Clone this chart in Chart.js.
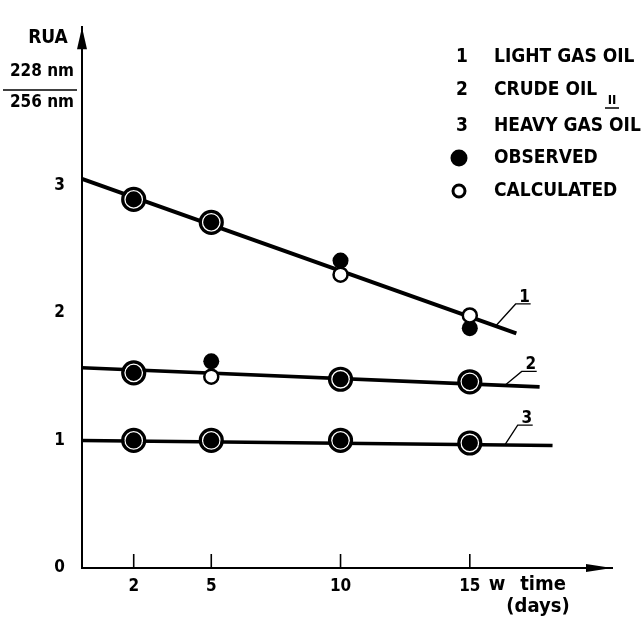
<!DOCTYPE html>
<html>
<head>
<meta charset="utf-8">
<script src="https://cdn.jsdelivr.net/npm/chart.js@4"></script>
<style>
html, body { margin: 0; padding: 0; background: #fff; }
#wrap { width: 644px; height: 618px; }
</style>
</head>
<body>
<div id="wrap"><canvas id="rua"></canvas></div>
<script>
const xTicks = [2, 5, 10, 15];
const yTicks = [0, 1, 2, 3];

// fitted lines, start and end of each
const line1 = [{ x: 0, y: 3.05 }, { x: 16.8, y: 1.84 }];
const line2 = [{ x: 0, y: 1.57 }, { x: 17.7, y: 1.42 }];
const line3 = [{ x: 0, y: 1.00 }, { x: 18.2, y: 0.96 }];

const days = [2, 5, 10, 15, 2, 5, 10, 15, 2, 5, 10, 15];
const observed   = [2.89, 2.71, 2.41, 1.88, 1.53, 1.62, 1.48, 1.46, 1.00, 1.00, 1.00, 0.98];
const calculated = [2.89, 2.71, 2.30, 1.98, 1.53, 1.50, 1.48, 1.46, 1.00, 1.00, 1.00, 0.98];

const curveNames = ["1", "2", "3"];
const legendRows = [
    ["1", "LIGHT GAS OIL"],
    ["2", "CRUDE OIL"],
    ["3", "HEAVY GAS OIL"],
    ["obs", "OBSERVED"],
    ["calc", "CALCULATED"]
];

const FONT = '"DejaVu Sans Condensed", "Liberation Sans Narrow", sans-serif';
const same = observed.map((v, i) => v === calculated[i]);

const obsPts = days.map((d, i) => ({ x: d, y: observed[i] }));
const calcPts = days.map((d, i) => ({ x: d, y: calculated[i] }));

function lineSet(pts, w) {
    return {
        type: "line", data: pts, borderColor: "#000", borderWidth: w,
        pointRadius: 0, showLine: true, order: 3
    };
}

function arrow(ctx, tx, ty, dx, dy, len, half) {
    // filled arrowhead with its tip at (tx, ty), pointing along (dx, dy)
    const bx = tx - dx * len, by = ty - dy * len;
    ctx.beginPath();
    ctx.moveTo(tx, ty);
    ctx.lineTo(bx - dy * half, by + dx * half);
    ctx.lineTo(bx + dy * half, by - dx * half);
    ctx.closePath();
    ctx.fill();
}

const decor = {
    id: "decor",
    afterDraw(chart) {
        const { ctx, chartArea: a, scales: { x, y } } = chart;
        ctx.save();
        ctx.fillStyle = "#000";
        ctx.strokeStyle = "#000";

        arrow(ctx, a.left, a.top, 0, -1, 22, 5);
        arrow(ctx, a.right, a.bottom, 1, 0, 26, 4);

        // ticks on the time axis point up into the plot
        ctx.lineWidth = 1.6;
        xTicks.forEach(v => {
            const px = x.getPixelForValue(v);
            ctx.beginPath();
            ctx.moveTo(px, a.bottom);
            ctx.lineTo(px, a.bottom - 14);
            ctx.stroke();
        });

        // curve numbers with leader lines
        const lines = [line1, line2, line3];
        const leadX = [16.0, 16.35, 16.35];
        const lead = [[20, -22], [17, -14], [13, -20]];
        ctx.font = "bold 17px " + FONT;
        ctx.textAlign = "center";
        ctx.textBaseline = "alphabetic";
        lines.forEach((ln, i) => {
            const t = (leadX[i] - ln[0].x) / (ln[1].x - ln[0].x);
            const vy = ln[0].y + t * (ln[1].y - ln[0].y);
            const px = x.getPixelForValue(leadX[i]), py = y.getPixelForValue(vy);
            const ux = px + lead[i][0], uy = py + lead[i][1];
            ctx.lineWidth = 1.3;
            ctx.beginPath();
            ctx.moveTo(px, py);
            ctx.lineTo(ux, uy);
            ctx.lineTo(ux + 15, uy);
            ctx.stroke();
            ctx.fillText(curveNames[i], ux + 9, uy - 2);
        });

        // legend
        ctx.font = "bold 19px " + FONT;
        ctx.textBaseline = "middle";
        const rowY = [57, 90, 126, 158, 191];
        legendRows.forEach((r, i) => {
            const cy = rowY[i];
            if (r[0] === "obs") {
                ctx.beginPath();
                ctx.arc(459, cy, 8.5, 0, Math.PI * 2);
                ctx.fill();
            } else if (r[0] === "calc") {
                ctx.lineWidth = 3;
                ctx.beginPath();
                ctx.arc(459, cy, 6, 0, Math.PI * 2);
                ctx.stroke();
            } else {
                ctx.textAlign = "center";
                ctx.fillText(r[0], 462, cy);
            }
            ctx.textAlign = "left";
            ctx.fillText(r[1], 494, cy);
        });
        // roman numeral after crude oil
        ctx.font = "bold 13px " + FONT;
        ctx.textAlign = "center";
        ctx.fillText("II", 612, 101);
        ctx.lineWidth = 1.5;
        ctx.beginPath();
        ctx.moveTo(605, 108);
        ctx.lineTo(619, 108);
        ctx.stroke();

        // y axis title as a ratio
        ctx.font = "bold 19px " + FONT;
        ctx.fillText("RUA", 48, 38);
        ctx.font = "bold 17px " + FONT;
        ctx.fillText("228 nm", 42, 72);
        ctx.fillText("256 nm", 42, 103);
        ctx.lineWidth = 1.5;
        ctx.beginPath();
        ctx.moveTo(3, 90);
        ctx.lineTo(77, 90);
        ctx.stroke();

        // time axis title
        ctx.font = "bold 20px " + FONT;
        ctx.fillText("w", 497, 585);
        ctx.fillText("time", 543, 585);
        ctx.fillText("(days)", 538, 607);
        ctx.restore();
    }
};

new Chart(document.getElementById("rua"), {
    type: "scatter",
    data: {
        datasets: [
            lineSet(line1, 4),
            lineSet(line2, 3.6),
            lineSet(line3, 3.4),
            {
                label: "OBSERVED",
                data: obsPts,
                order: 2,
                pointStyle: "circle",
                pointRadius: same.map(s => s ? 8.8 : 8),
                pointBackgroundColor: "#000",
                pointBorderColor: same.map(s => s ? "#fff" : "#000"),
                pointBorderWidth: same.map(s => s ? 1.4 : 0)
            },
            {
                label: "CALCULATED",
                data: calcPts,
                order: 1,
                pointStyle: "circle",
                pointRadius: same.map(s => s ? 11 : 7),
                pointBackgroundColor: same.map(s => s ? "rgba(0,0,0,0)" : "#fff"),
                pointBorderColor: "#000",
                pointBorderWidth: same.map(s => s ? 3.2 : 2.5)
            }
        ]
    },
    options: {
        responsive: true,
        maintainAspectRatio: false,
        animation: false,
        layout: { padding: { top: 13, right: 32, bottom: 0, left: 0 } },
        plugins: { legend: { display: false }, tooltip: { enabled: false } },
        scales: {
            x: {
                type: "linear", min: 0, max: 20.5,
                afterBuildTicks: s => { s.ticks = xTicks.map(v => ({ value: v })); },
                afterFit: s => { s.height = 50; },
                grid: { display: false, drawTicks: false },
                border: { display: true, color: "#000", width: 2 },
                ticks: { color: "#000", padding: 8, font: { family: FONT, size: 17, weight: "bold" } }
            },
            y: {
                type: "linear", min: 0, max: 4.24,
                afterBuildTicks: s => { s.ticks = yTicks.map(v => ({ value: v })); },
                afterFit: s => { s.width = 82; },
                grid: { display: false, drawTicks: false },
                border: { display: true, color: "#000", width: 2 },
                ticks: { color: "#000", padding: 17, font: { family: FONT, size: 17, weight: "bold" } }
            }
        }
    },
    plugins: [decor]
});
</script>
</body>
</html>
